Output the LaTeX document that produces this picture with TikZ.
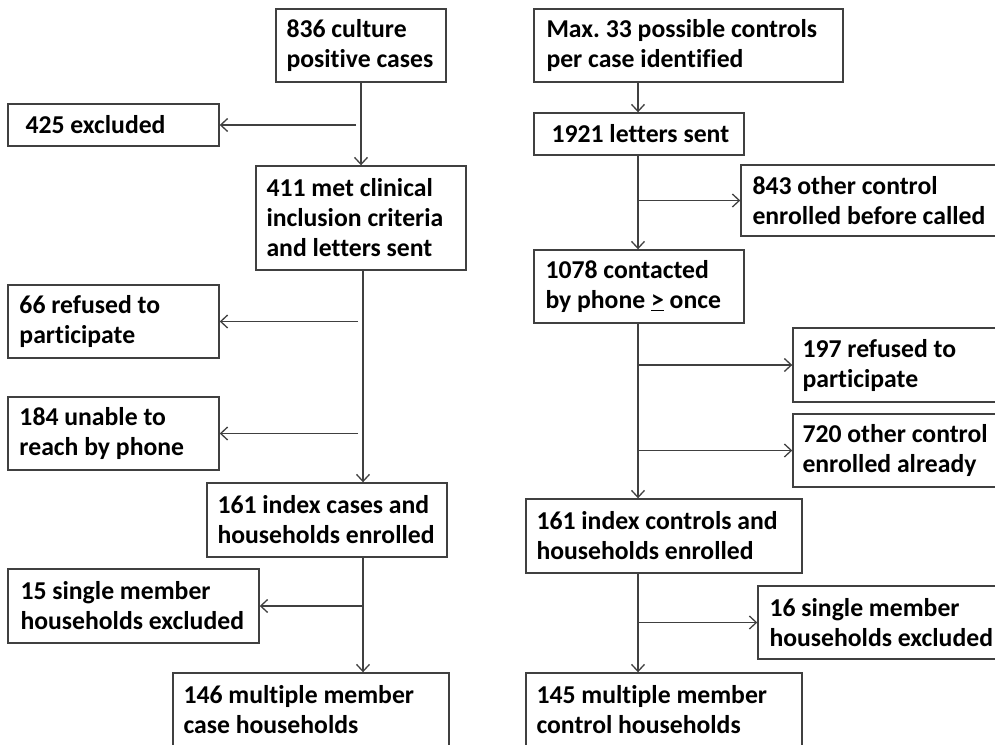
\documentclass[tikz,border=0pt]{standalone}
\usepackage{fontspec}
\setmainfont{Carlito}[Ligatures={NoCommon}]
\usetikzlibrary{arrows.meta,fit}
\definecolor{ln}{HTML}{404040}
\tikzset{
  box/.style={draw=ln, line width=1.4pt, inner sep=0pt},
  txt/.style={align=left, inner sep=0pt, font=\bfseries\fontsize{25.7}{30}\selectfont, anchor=west},
  arr/.style={draw=ln, line width=1.3pt, -{Straight Barb[length=7pt,width=13pt,line width=1.3pt]}}
}
\newcommand{\flowbox}[7]{%
  \node[box, fit={(#2,#3) (#4,#5)}] (#1) {};
  \node[txt] (#1-t) at ([xshift=#6pt]#1.west) {#7};
}
\frenchspacing
\begin{document}
\begin{tikzpicture}[x=1pt,y=-1pt]
\useasboundingbox (0,0) rectangle (995,744);
% left column
\flowbox{A}{276}{9}{446}{82}{11}{836 culture\\positive cases}
\flowbox{exc}{8}{104}{219}{146}{18}{425 excluded}
\flowbox{B}{256}{166}{466}{270}{11}{411 met clinical\\inclusion criteria\\and letters sent}
\flowbox{ref}{8}{285}{219}{358}{12}{66 refused to\\participate}
\flowbox{unr}{8}{397}{219}{470}{12}{184 unable to\\reach by phone}
\flowbox{C}{207}{483}{447}{557}{11}{161 index cases and\\households enrolled}
\flowbox{sgl}{8}{569}{259}{643}{13}{15 single member\\households excluded}
\flowbox{D}{173}{673}{449}{746}{11}{146 multiple member\\case households}
% right column
\flowbox{R1}{534}{9}{843}{82}{13}{Max. 33 possible controls\\per case identified}
\flowbox{R2}{534}{113}{744}{155}{18}{1921 letters sent}
\flowbox{R3}{741}{165}{1000}{236}{12}{843 other control\\enrolled before called}
\flowbox{R4}{534}{250}{744}{323}{12}{1078 contacted\\by phone \underline{>} once}
\flowbox{R5}{793}{328}{1000}{402}{10}{197 refused to\\participate}
\flowbox{R6}{793}{414}{1000}{487}{10}{720 other control\\enrolled already}
\flowbox{R7}{526}{499}{802}{573}{11}{161 index controls and\\households enrolled}
\flowbox{R8}{758}{586}{1000}{659}{12}{16 single member\\households excluded}
\flowbox{R9}{526}{673}{802}{746}{11}{145 multiple member\\control households}
% left connectors
\draw[arr] (A.south) -- (B.north);
\coordinate (jA) at ([xshift=-5pt]A.south |- exc.east);
\draw[arr] (jA) -- (exc.east);
\coordinate (mB) at ([xshift=2pt]B.south);
\draw[arr] (mB) -- (mB |- C.north);
\coordinate (jR) at ([xshift=-5pt]mB |- ref.east);
\draw[arr] (jR) -- (ref.east);
\coordinate (jU) at ([xshift=-5pt]mB |- unr.east);
\draw[arr] (jU) -- (unr.east);
\coordinate (mC) at (mB |- C.south);
\draw[arr] (mC) -- (mC |- D.north);
\coordinate (jS) at (mC |- sgl.east);
\draw[arr] (jS) -- (sgl.east);
% right connectors
\coordinate (m1) at ([xshift=-1pt]R2.north |- R1.south);
\draw[arr] (m1) -- (m1 |- R2.north);
\coordinate (m2) at ([xshift=-1pt]R2.south);
\draw[arr] (m2) -- (m2 |- R4.north);
\coordinate (j3) at (m2 |- R3.west);
\draw[arr] (j3) -- (R3.west);
\coordinate (m4) at ([xshift=-1pt]R4.south);
\draw[arr] (m4) -- (m4 |- R7.north);
\coordinate (j5) at (m4 |- R5.west);
\draw[arr] (j5) -- (R5.west);
\coordinate (j6) at (m4 |- R6.west);
\draw[arr] (j6) -- (R6.west);
\coordinate (m7) at (m4 |- R7.south);
\draw[arr] (m7) -- (m7 |- R9.north);
\coordinate (j8) at (m7 |- R8.west);
\draw[arr] (j8) -- (R8.west);
\end{tikzpicture}
\end{document}
